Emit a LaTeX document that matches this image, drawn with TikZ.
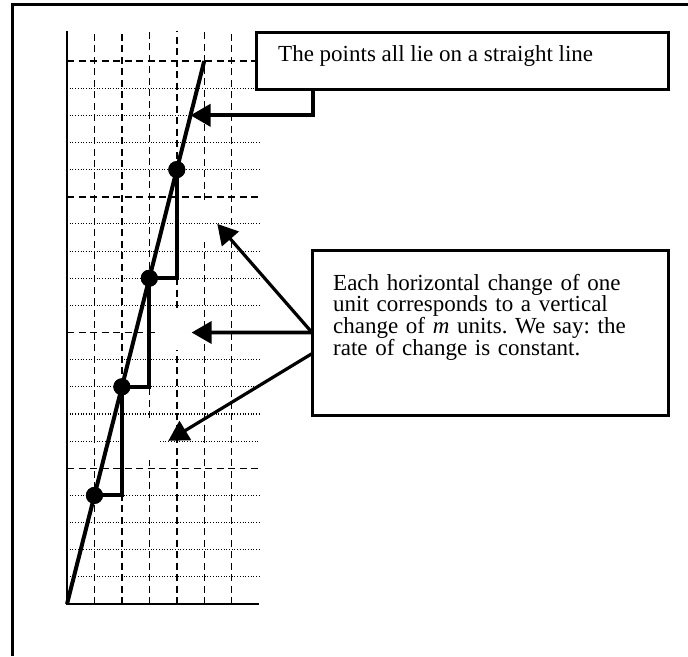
\documentclass[tikz,border=0pt]{standalone}
\usepackage{fontspec}
\setmainfont{Liberation Serif}
\usetikzlibrary{arrows.meta,calc}
\frenchspacing
\begin{document}
\begin{tikzpicture}[x=1pt,y=-1pt,
  frameline/.style={line width=2.2pt},
  textbox/.style={draw, line width=3pt, fill=white, inner sep=0pt, outer sep=0pt, anchor=north west},
  dashgrid/.style={line width=1.5pt, dash pattern=on 7pt off 4.5pt},
  dotgrid/.style={line width=1.1pt, dash pattern=on 1pt off 1.7pt},
  axisline/.style={line width=1.8pt},
  graphline/.style={line width=4pt},
  dotnode/.style={circle, fill=black, inner sep=0pt, minimum size=17pt},
  pointer/.style={line width=3.8pt, -{Triangle[length=20pt 0 0, width=22pt 0 0]}},
  slantpointer/.style={line width=3.2pt, -{Triangle[length=20pt 0 0, width=22pt 0 0]}},
  boxtext/.style={inner sep=0pt, anchor=base west, align=left, font=\fontsize{23pt}{21.7pt}\selectfont}
]
\useasboundingbox (0,0) rectangle (688,656);
% outer frame (top and left only)
\draw[frameline] (12.5,656) -- (12.5,4.5) -- (688,4.5);

\begin{scope}[shift={(67,604)}, x=27.45pt, y=27.15pt]
  % vertical dashed grid
  \foreach \i in {1,2,6} \draw[dashgrid] (\i,0) -- (\i,21.1);
  \draw[dashgrid] (3,0) -- (3,5.3) (3,6.85) -- (3,21.1);
  \draw[dashgrid] (4,0) -- (4,9.36) (4,10.9) -- (4,21.1);
  \draw[dashgrid] (5,0) -- (5,13.33) (5,14.88) -- (5,21.1);
  % horizontal dotted grid
  \foreach \j in {1,2,3,4,7,8,9,11,12,13,14,16,17,18,19}
    \draw[dotgrid] (0,\j) -- (7,\j);
  \draw[dotgrid] (0,6) -- (2,6) (3.39,6) -- (7,6);
  % horizontal dashed grid
  \foreach \j in {5,15,20} \draw[dashgrid] (0,\j) -- (7,\j);
  \draw[dashgrid] (0,10) -- (3.2,10);
  % axes
  \draw[axisline] (0,21.1) -- (0,0) -- (7,0);
  % straight line
  \coordinate (o) at (0,0);
  \coordinate (top) at (5,20);
  \draw[graphline] (o) -- (top);
  % points
  \node[dotnode] (p1) at (1,4) {};
  \node[dotnode] (p2) at (2,8) {};
  \node[dotnode] (p3) at (3,12) {};
  \node[dotnode] (p4) at (4,16) {};
  \draw[graphline] (p1.center) -| (p2.center) -| (p3.center) -| (p4.center);
  \node[dotnode] at (p1) {};
  \node[dotnode] at (p2) {};
  \node[dotnode] at (p3) {};
  \node[dotnode] at (p4) {};
  % arrow targets
  \coordinate (tip1) at (4.5,18);
  \coordinate (tip2) at (4.54,10);
  \coordinate (tip3) at (5.475,14.0);
  \coordinate (tip4) at (3.69,6.01);
\end{scope}

% text boxes
\node[textbox, minimum width=412pt, minimum height=57pt] (b1) at (256,32) {};
\node[boxtext] (t1) at (278,61.7) {The points all lie on a straight line};

\node[textbox, minimum width=356pt, minimum height=165pt] (b2) at (312,250) {};
\node[boxtext, text width=340pt] (t2) at (333,290) {Each horizontal change of one\\unit corresponds to a vertical\\change of \textit{m} units. We say: the\\rate of change is constant.};

% connectors
\coordinate (s1) at ($(b1.south west)+(56.7,0)$);
\draw[pointer] (s1) |- (tip1);
\draw[pointer] (b2.west) -- (tip2);
\draw[slantpointer] (b2.west) -- (tip3);
\coordinate (s4) at ($(b2.west)+(1,20.5)$);
\draw[slantpointer] (s4) -- (tip4);
\end{tikzpicture}
\end{document}
